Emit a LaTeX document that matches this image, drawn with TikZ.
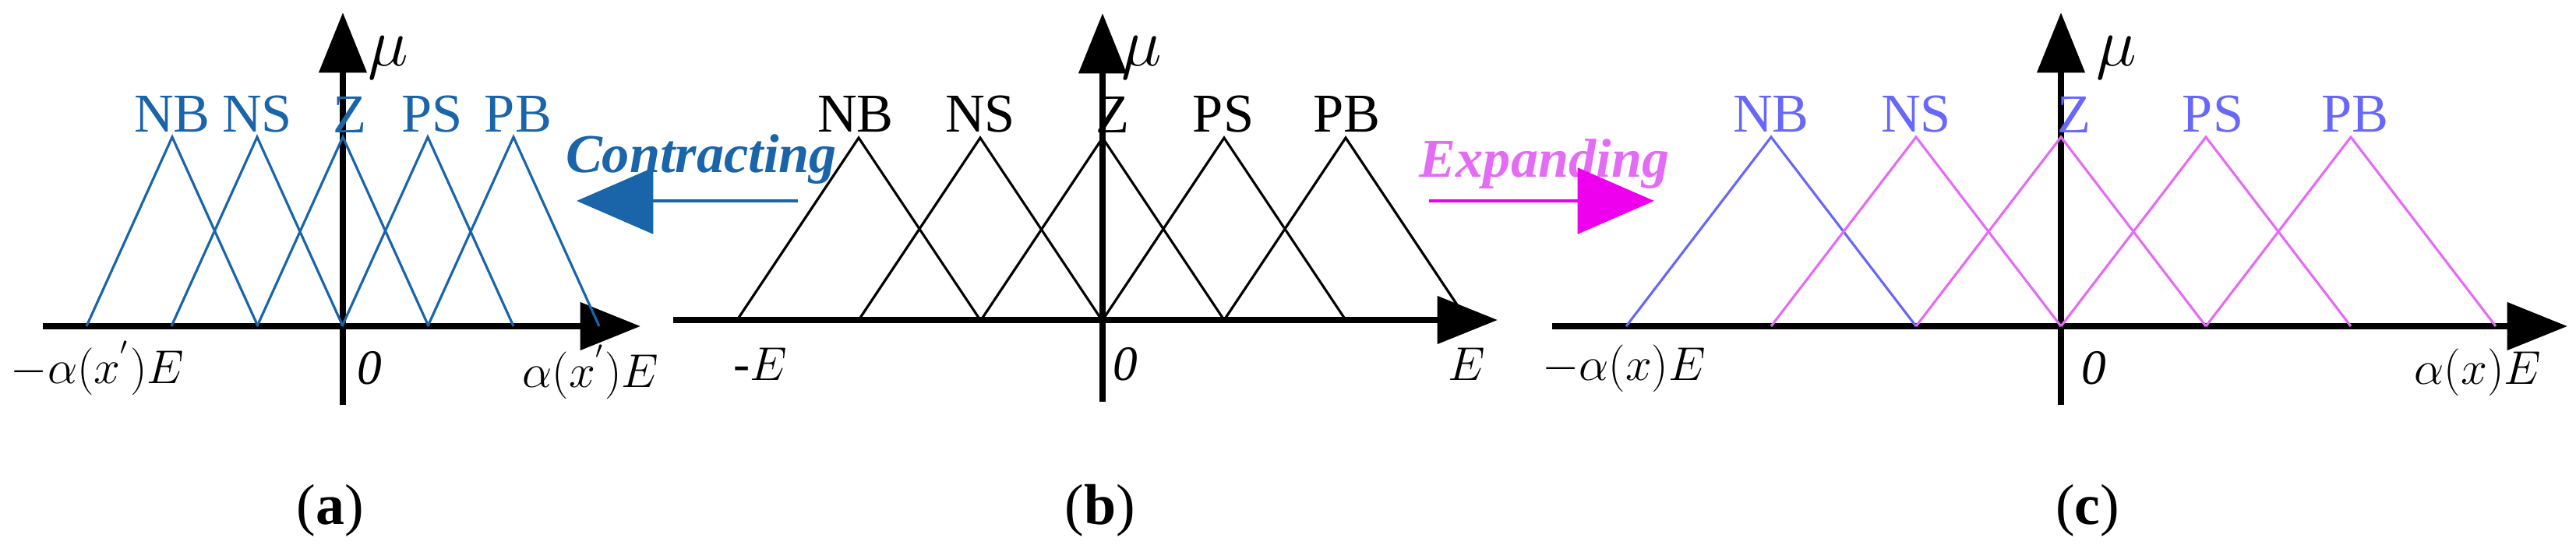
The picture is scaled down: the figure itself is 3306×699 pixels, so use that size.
\documentclass[tikz,border=0pt]{standalone}
\usepackage{fontspec}
\setmainfont{Liberation Serif}
\usetikzlibrary{arrows.meta}
\definecolor{cblue}{HTML}{1A64AA}
\definecolor{cviol}{HTML}{6868F8}
\definecolor{cmag}{HTML}{E46CF4}
\definecolor{carr}{HTML}{EE00EE}
\begin{document}
\begin{tikzpicture}[x=0.01cm,y=-0.01cm,
  ax/.style={line width=2.4pt,-{Triangle[length=22pt,width=17pt]}},
  mf/.style={line width=0.9pt},
  lab/.style={font=\fontsize{20}{20}\selectfont,inner sep=0pt},
  mlab/.style={font=\fontsize{18}{18}\selectfont,inner sep=0pt},
  mulab/.style={font=\fontsize{32}{32}\selectfont,inner sep=0pt},
  figcap/.style={font=\fontsize{21}{21}\selectfont,inner sep=0pt}]
\useasboundingbox (0,0) rectangle (3306,699);
% ---------- (a)
\draw[ax] (55,419) -- (822,419);
\draw[ax] (440,520) -- (440,16);
\foreach \p in {221,330,440,549,659}{\draw[mf,cblue] (\p-110,419) -- (\p,176) -- (\p+110,419);}
\node[lab,cblue] at (221,147) {NB};
\node[lab,cblue] at (330,147) {NS};
\node[lab,cblue] at (449,147) {Z};
\node[lab,cblue] at (555,147) {PS};
\node[lab,cblue] at (665,147) {PB};
\node[mulab] (mua) at (498,74) {$\mu$};
\node[mlab] (la) at (125,473) {$-\alpha(x^{'})E$};
\node[mlab] (za) at (474,473) {\itshape 0};
\node[mlab] (ra) at (758,478) {$\alpha(x^{'})E$};
\node[figcap] (ca) at (424,656) {(\textbf{a})};
% ---------- (b)
\draw[ax] (864,411) -- (1922,411);
\draw[ax] (1415,516) -- (1415,17);
\foreach \p in {1102,1258,1415,1571,1727}{\draw[mf,black] (\p-156,411) -- (\p,177) -- (\p+156,411);}
\node[lab] at (1098,147) {NB};
\node[lab] at (1258,147) {NS};
\node[lab] at (1428,147) {Z};
\node[lab] at (1570,147) {PS};
\node[lab] at (1728,147) {PB};
\node[mulab] at (1465,74) {$\mu$};
\node[mlab] at (976,468) {-$E$};
\node[mlab] at (1444,468) {\itshape 0};
\node[mlab] at (1882,468) {$E$};
\node[figcap] at (1412,656) {(\textbf{b})};
% ---------- (c)
\draw[ax] (1992,419) -- (3295,419);
\draw[ax] (2645,520) -- (2645,16);
\draw[mf,cviol] (2087,419) -- (2273,176) -- (2459,419);
\foreach \p in {2459,2645,2831,3017}{\draw[mf,cmag] (\p-186,419) -- (\p,176) -- (\p+186,419);}
\node[lab,cviol] at (2273,147) {NB};
\node[lab,cviol] at (2459,147) {NS};
\node[lab,cviol] at (2662,147) {Z};
\node[lab,cviol] at (2840,147) {PS};
\node[lab,cviol] at (3022,147) {PB};
\node[mulab] at (2716,74) {$\mu$};
\node[mlab] at (2084,473) {$-\alpha(x)E$};
\node[mlab] at (2687,473) {\itshape 0};
\node[mlab] at (3180,478) {$\alpha(x)E$};
\node[figcap] at (2679,656) {(\textbf{c})};
% ---------- arrows
\node[lab,cblue,font=\fontsize{20}{20}\selectfont\bfseries\itshape] at (900,205) {Contracting};
\coordinate (cs) at (1024,258); \coordinate (ce) at (740,258);
\draw[cblue,line width=1.4pt,-{Triangle[length=28pt,width=24pt]}] (cs) -- (ce);
\node[lab,cmag,font=\fontsize{20}{20}\selectfont\bfseries\itshape] at (1982,211) {Expanding};
\coordinate (es) at (1834,258); \coordinate (ee) at (2123,258);
\draw[carr,line width=1.4pt,-{Triangle[length=28pt,width=24pt]}] (es) -- (ee);
\end{tikzpicture}
\end{document}
